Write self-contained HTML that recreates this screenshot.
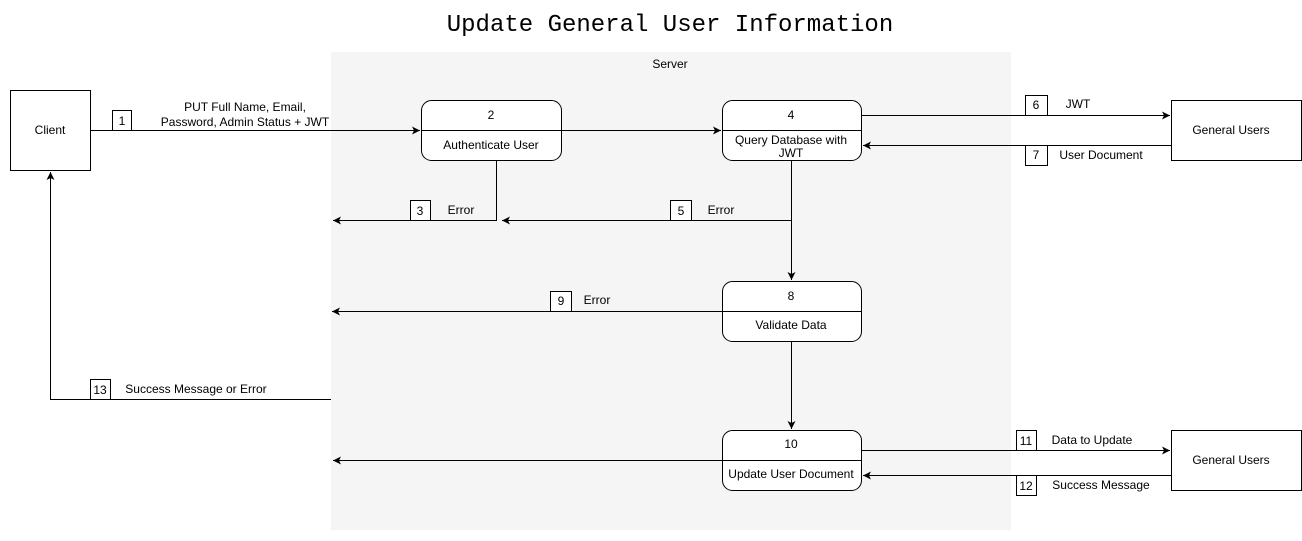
<!DOCTYPE html>
<html><head><meta charset="utf-8"><style>
html,body{margin:0;padding:0;background:#fff;}
svg{display:block;}
text{font-family:"Liberation Sans",sans-serif;font-size:12px;fill:#000;}
</style></head><body>
<svg width="1302" height="541" viewBox="0 0 1302 541" xmlns="http://www.w3.org/2000/svg">
<defs>
<marker id="a" markerWidth="10" markerHeight="10" refX="9" refY="5" orient="auto" markerUnits="userSpaceOnUse">
<path d="M1,1 L9,5 L1,9 L3,5 Z" fill="#000"/>
</marker>
</defs>
<text x="670" y="31" text-anchor="middle" style="font-family:'Liberation Mono',monospace;font-size:24px">Update General User Information</text>
<rect x="331" y="52" width="680" height="478" fill="#f5f5f5"/>
<text x="670" y="68" text-anchor="middle">Server</text>

<g stroke="#000" stroke-width="1" fill="#fff">
<rect x="10.5" y="90.5" width="80" height="80"/>
<rect x="1171.5" y="100.5" width="130" height="60"/>
<rect x="1171.5" y="430.5" width="130" height="60"/>
<rect x="421.5" y="100.5" width="140" height="60" rx="10"/>
<rect x="722.5" y="100.5" width="139" height="60" rx="10"/>
<rect x="722.5" y="281.5" width="139" height="60" rx="10"/>
<rect x="722.5" y="430.5" width="139" height="60" rx="10"/>
</g>
<g stroke="#000" stroke-width="1" fill="none">
<line x1="421" y1="130.5" x2="562" y2="130.5"/>
<line x1="722" y1="130.5" x2="862" y2="130.5"/>
<line x1="722" y1="311.5" x2="862" y2="311.5"/>
<line x1="722" y1="460.5" x2="862" y2="460.5"/>
<line x1="91" y1="130.5" x2="420" y2="130.5" marker-end="url(#a)"/>
<line x1="562" y1="130.5" x2="721" y2="130.5" marker-end="url(#a)"/>
<line x1="862" y1="115.5" x2="1170" y2="115.5" marker-end="url(#a)"/>
<line x1="1171" y1="145.5" x2="863" y2="145.5" marker-end="url(#a)"/>
<polyline points="496.5,161 496.5,220.5 333,220.5" marker-end="url(#a)"/>
<line x1="791.5" y1="220.5" x2="502" y2="220.5" marker-end="url(#a)"/>
<line x1="791.5" y1="161" x2="791.5" y2="280" marker-end="url(#a)"/>
<line x1="722" y1="311.5" x2="332" y2="311.5" marker-end="url(#a)"/>
<line x1="791.5" y1="342" x2="791.5" y2="429" marker-end="url(#a)"/>
<line x1="722" y1="460.5" x2="333" y2="460.5" marker-end="url(#a)"/>
<line x1="862" y1="450.5" x2="1170" y2="450.5" marker-end="url(#a)"/>
<line x1="1171" y1="475.5" x2="863" y2="475.5" marker-end="url(#a)"/>
<polyline points="331,399.5 50.5,399.5 50.5,172" marker-end="url(#a)"/>
</g>
<g stroke="#000" stroke-width="1" fill="#fff">
<rect x="112.5" y="110.5" width="19" height="20"/>
<rect x="410.5" y="200.5" width="20" height="20"/>
<rect x="670.5" y="200.5" width="21" height="20"/>
<rect x="1025.5" y="95.5" width="22" height="20"/>
<rect x="1025.5" y="145.5" width="22" height="20"/>
<rect x="550.5" y="291.5" width="21" height="20"/>
<rect x="90.5" y="379.5" width="20" height="20"/>
<rect x="1016.5" y="430.5" width="20" height="20"/>
<rect x="1016.5" y="475.5" width="20" height="20"/>
</g>
<g text-anchor="middle">
<text x="50" y="134">Client</text>
<text x="1231" y="134">General Users</text>
<text x="1231" y="464">General Users</text>
<text x="491" y="119">2</text>
<text x="491" y="149">Authenticate User</text>
<text x="791" y="119">4</text>
<text x="791" y="144">Query Database with</text>
<text x="791" y="157">JWT</text>
<text x="791" y="300">8</text>
<text x="791" y="329">Validate Data</text>
<text x="791" y="448">10</text>
<text x="791" y="478">Update User Document</text>
<text x="122" y="125">1</text>
<text x="420" y="215">3</text>
<text x="681" y="215">5</text>
<text x="1036" y="109">6</text>
<text x="1036" y="159">7</text>
<text x="561" y="305">9</text>
<text x="100" y="394">13</text>
<text x="1026" y="445">11</text>
<text x="1026" y="490">12</text>
<text x="245" y="111">PUT  Full Name, Email,</text>
<text x="245" y="126">Password, Admin Status + JWT</text>
<text x="461" y="214">Error</text>
<text x="721" y="214">Error</text>
<text x="1078" y="108">JWT</text>
<text x="1101" y="159">User Document</text>
<text x="597" y="304">Error</text>
<text x="196" y="393">Success Message or Error</text>
<text x="1092" y="444">Data to Update</text>
<text x="1101" y="489">Success Message</text>
</g>
</svg>
</body></html>
